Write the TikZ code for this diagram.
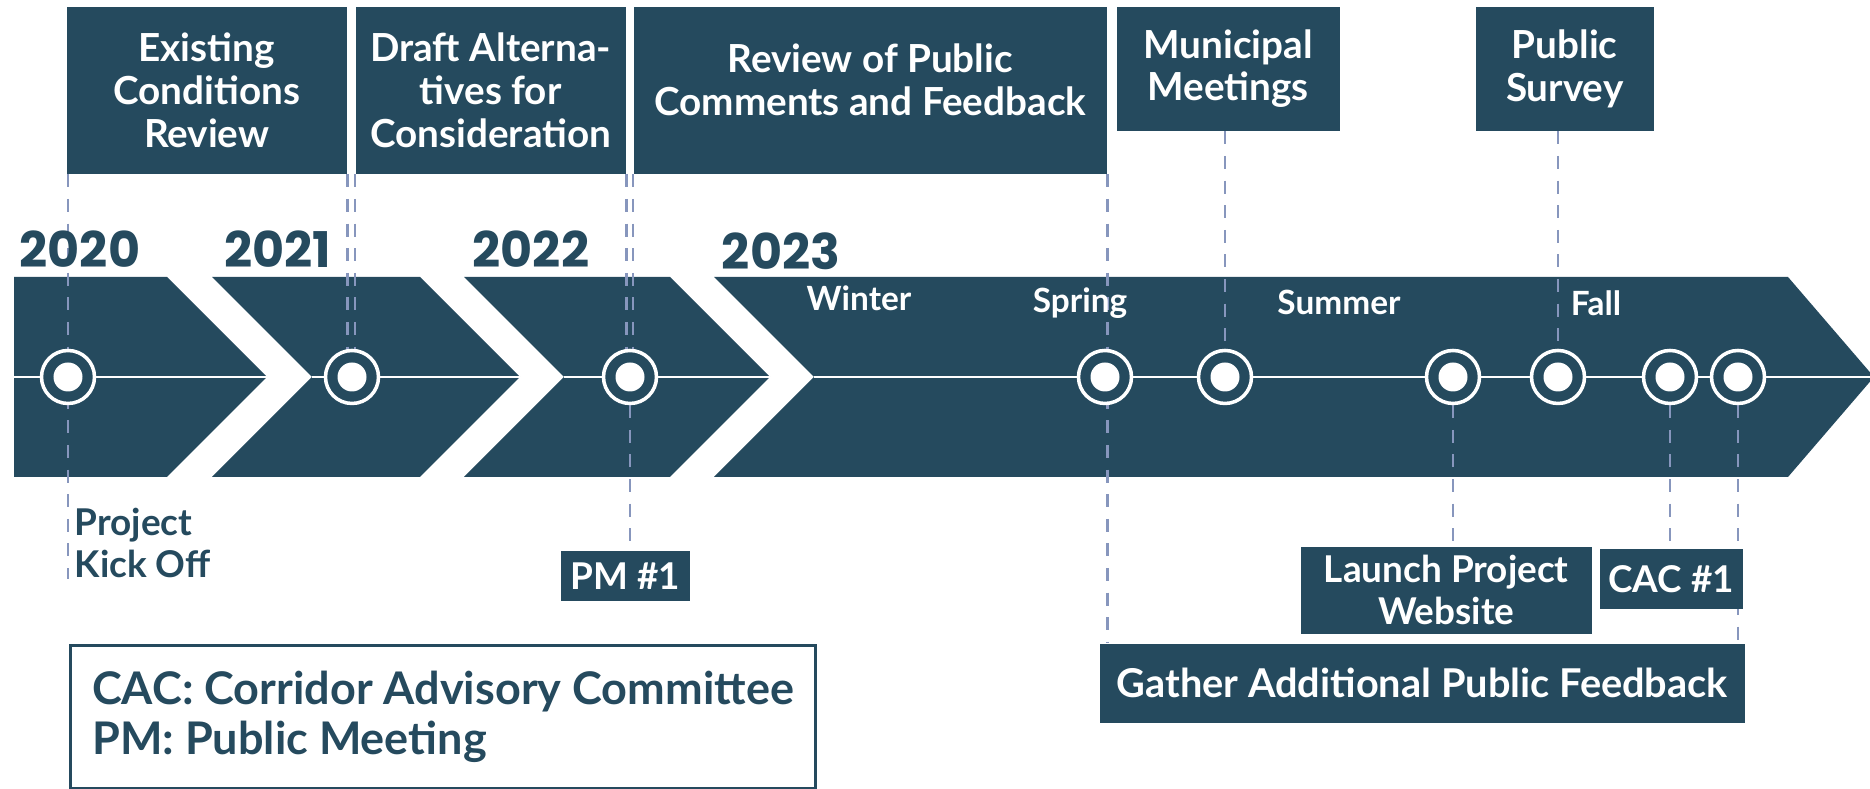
\documentclass[tikz,border=0pt]{standalone}
\usepackage{fontspec}
\setmainfont{Lato}
\newfontfamily\yearfont{Poppins}
\usetikzlibrary{positioning}

\definecolor{tlblue}{HTML}{254A5E}
\definecolor{guidecol}{HTML}{8796BD}

\pgfdeclarelayer{bg}
\pgfdeclarelayer{mid}
\pgfsetlayers{bg,mid,main}

\tikzset{
  box/.style={fill=tlblue, text=white, font=\bfseries\fontsize{11}{12.2}\selectfont, align=center, inner sep=0pt, anchor=north west},
  guide/.style={draw=guidecol, line width=0.75pt, dash pattern=on 3.7pt off 3.3pt},
  ring/.style={circle, draw=white, fill=tlblue, line width=1pt, minimum size=0.53cm, inner sep=0pt,
    path picture={\fill[white] (path picture bounding box.center) circle (0.145cm);}},
  season/.style={text=white, font=\bfseries\fontsize{9.5}{10}\selectfont},
  year/.style={text=tlblue, font=\yearfont\bfseries\fontsize{14}{15}\selectfont},
}

\begin{document}
\begin{tikzpicture}
    \useasboundingbox (0,0) rectangle (18.70,7.89);

    % timeline arrows
    \begin{pgfonlayer}{bg}
    \fill[tlblue] (0.14,5.12) -- (1.67,5.12) -- (2.67,4.12) -- (1.67,3.12) -- (0.14,3.12) -- cycle;
    \fill[tlblue] (2.12,5.12) -- (4.20,5.12) -- (5.20,4.12) -- (4.20,3.12) -- (2.12,3.12) -- (3.12,4.12) -- cycle;
    \fill[tlblue] (4.64,5.12) -- (6.70,5.12) -- (7.70,4.12) -- (6.70,3.12) -- (4.64,3.12) -- (5.64,4.12) -- cycle;
    \fill[tlblue] (7.14,5.12) -- (17.88,5.12) -- (18.74,4.12) -- (17.88,3.12) -- (7.14,3.12) -- (8.14,4.12) -- cycle;
    \draw[white, line width=0.7pt] (0.14,4.12) -- (2.67,4.12);
    \draw[white, line width=0.7pt] (3.12,4.12) -- (5.20,4.12);
    \draw[white, line width=0.7pt] (5.64,4.12) -- (7.70,4.12);
    \draw[white, line width=0.7pt] (8.14,4.12) -- (18.74,4.12);
    \end{pgfonlayer}

    % years and seasons
    \node[year] (y20) at (0.80,5.40) {2020};
    \node[year] (y21) at (2.78,5.40) {2021};
    \node[year] (y22) at (5.31,5.40) {2022};
    \node[year] (y23) at (7.81,5.38) {2023};
    \node[season] (winter) at (8.59,4.91) {Winter};
    \node[season] (spring) at (10.80,4.86) {Spring};
    \node[season] (summer) at (13.39,4.87) {Summer};
    \node[season] (fall) at (15.96,4.86) {Fall};

    % milestones
    \foreach \x [count=\i] in {0.68,3.52,6.30,11.05,12.25,14.53,15.58,16.70,17.38}
        \node[ring] (m\i) at (\x,4.12) {};

    % top boxes
    \node[box, minimum width=2.80cm, minimum height=1.67cm] (exist) at (0.66,7.83) {Existing\\Conditions\\Review};
    \node[box, minimum width=2.70cm, minimum height=1.67cm] (draft) at (3.55,7.83) {Draft Alterna-\\tives for\\Consideration};
    \node[box, minimum width=4.73cm, minimum height=1.67cm, text depth=6pt] (review) at (6.33,7.83) {Review of Public\\Comments and Feedback};
    \node[box, minimum width=2.23cm, minimum height=1.24cm] (munic) at (11.16,7.83) {Municipal\\Meetings};
    \node[box, minimum width=1.78cm, minimum height=1.24cm] (survey) at (14.75,7.83) {Public\\Survey};

    % bottom boxes
    \node[text=tlblue, font=\bfseries\fontsize{10.5}{12.1}\selectfont, align=left, anchor=west, inner sep=0pt] (kick) at (0.74,2.46) {Project\\Kick Off};
    \node[box, minimum width=1.29cm, minimum height=0.50cm, font=\bfseries\fontsize{10.5}{12}\selectfont] (pm) at (5.60,2.39) {PM \#1};
    \node[box, minimum width=2.91cm, minimum height=0.87cm, font=\bfseries\fontsize{10.5}{12}\selectfont] (launch) at (13.00,2.43) {Launch Project\\Website};
    \node[box, minimum width=1.43cm, minimum height=0.60cm, font=\bfseries\fontsize{10.5}{12}\selectfont] (cac) at (15.99,2.41) {CAC \#1};
    \node[box, minimum width=6.45cm, minimum height=0.79cm, font=\bfseries\fontsize{11.3}{12}\selectfont] (gather) at (10.99,1.46) {Gather Additional Public Feedback};

    % legend
    \node[draw=tlblue, line width=0.8pt, fill=white, text=tlblue, align=left, anchor=north west, inner sep=0pt,
          minimum width=7.45cm, minimum height=1.43cm, font=\bfseries\fontsize{12.8}{14.4}\selectfont] (legend) at (0.69,1.45)
          {CAC: Corridor Advisory Committee\\PM: Public Meeting};

    % dashed guides
    \begin{pgfonlayer}{mid}
    \draw[guide] (m1 |- exist.south) -- (m1 |- kick.south);
    \draw[guide] (exist.south east) -- (exist.south east |- m2);
    \draw[guide] (draft.south west) -- (draft.south west |- m2);
    \draw[guide] (draft.south east) -- (draft.south east |- m3);
    \draw[guide] (review.south west) -- (review.south west |- m3);
    \draw[guide] (m3) -- (m3 |- pm.north);
    \draw[guide] (review.south east) -- (review.south east |- gather.north);
    \draw[guide] (munic.south -| m5) -- (m5);
    \draw[guide] (survey.south -| m7) -- (m7);
    \draw[guide] (m6) -- (m6 |- launch.north);
    \draw[guide] (m8) -- (m8 |- cac.north);
    \draw[guide] (m9) -- (m9 |- gather.north);
    \end{pgfonlayer}
\end{tikzpicture}
\end{document}
